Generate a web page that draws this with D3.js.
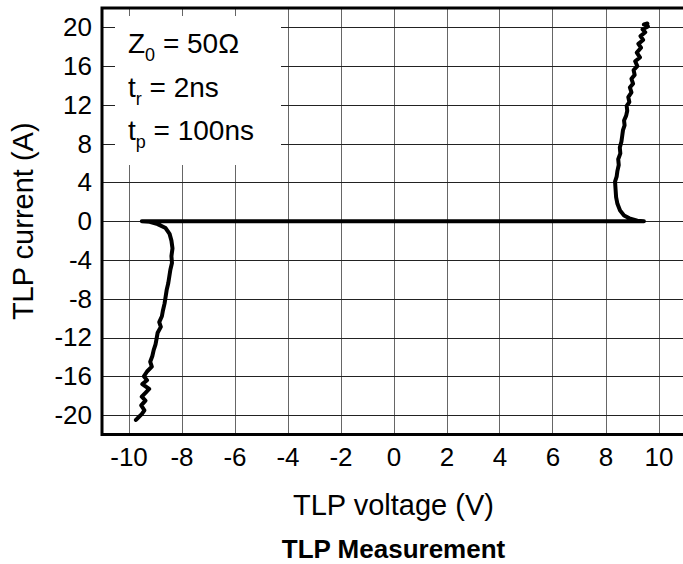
<!DOCTYPE html>
<html>
<head>
<meta charset="utf-8">
<script src="https://cdn.jsdelivr.net/npm/d3@7"></script>
<style>
  body { margin: 0; background: #fff; }
  svg { display: block; font-family: "Liberation Sans", Arial, sans-serif; }
</style>
</head>
<body>
<div id="chart"></div>
<script>
(function () {
  'use strict';

  // data
  var xTicks = [-10, -8, -6, -4, -2, 0, 2, 4, 6, 8, 10];
  var yTicks = [-20, -16, -12, -8, -4, 0, 4, 8, 12, 16, 20];

  // negative branch, from the bottom end up to the knee (V, A)
  var negBranch = [
    [-9.72, -20.5], [-9.65, -20.3], [-9.5, -19.9], [-9.4, -19.5], [-9.52, -19.0],
    [-9.36, -18.5], [-9.5, -18.1], [-9.36, -17.7], [-9.22, -17.3], [-9.48, -16.8],
    [-9.3, -16.4], [-9.42, -16.0], [-9.3, -15.5], [-9.12, -15.0], [-9.18, -14.5],
    [-9.1, -13.9], [-9.05, -13.3], [-8.98, -12.7], [-8.94, -12.1], [-8.9, -11.5],
    [-8.78, -10.9], [-8.84, -10.4], [-8.74, -9.8], [-8.7, -9.2], [-8.64, -8.5],
    [-8.6, -7.8], [-8.56, -7.1], [-8.5, -6.4], [-8.46, -5.7], [-8.42, -5.0],
    [-8.36, -4.3], [-8.38, -3.6], [-8.34, -2.8], [-8.38, -2.0], [-8.45, -1.3],
    [-8.6, -0.7], [-8.9, -0.3], [-9.2, -0.05], [-9.5, 0]
  ];

  // positive branch, from the knee up to the top end (V, A)
  var posBranch = [
    [9.45, 0], [9.2, 0.05], [8.9, 0.3], [8.7, 0.6], [8.55, 1.1], [8.45, 1.8],
    [8.4, 2.5], [8.38, 3.3], [8.36, 4.1], [8.42, 4.6], [8.45, 5.2], [8.5, 5.8],
    [8.48, 6.4], [8.56, 7.0], [8.54, 7.6], [8.6, 8.2], [8.63, 8.8], [8.66, 9.4],
    [8.72, 9.9], [8.7, 10.4], [8.78, 10.9], [8.82, 11.4], [8.8, 11.9], [8.9, 12.3],
    [8.86, 12.8], [8.98, 13.3], [8.92, 13.8], [9.04, 14.2], [8.98, 14.7], [9.1, 15.1],
    [9.06, 15.6], [9.2, 16.0], [9.12, 16.5], [9.3, 16.9], [9.18, 17.4], [9.34, 17.9],
    [9.24, 18.3], [9.42, 18.7], [9.32, 19.1], [9.5, 19.5], [9.4, 19.8], [9.6, 20.1],
    [9.45, 20.3], [9.58, 20.4]
  ];

  var W = 683, H = 564,
      left = 102, top = 8,
      plotW = 583, plotH = 426.5;

  var svg = d3.select('#chart').append('svg')
    .attr('width', W)
    .attr('height', H);

  var x = d3.scaleLinear().domain([-11, 11]).range([left, left + plotW]);
  var y = d3.scaleLinear().domain([-22, 22]).range([top + plotH, top]);

  // grid
  svg.append('g').selectAll('line')
    .data(xTicks)
    .enter().append('line')
    .attr('x1', function (d) { return Math.round(x(d)) + 0.5; })
    .attr('x2', function (d) { return Math.round(x(d)) + 0.5; })
    .attr('y1', top)
    .attr('y2', top + plotH)
    .style('stroke', '#666')
    .style('stroke-width', 1);

  svg.append('g').selectAll('line')
    .data(yTicks)
    .enter().append('line')
    .attr('x1', left)
    .attr('x2', W)
    .attr('y1', function (d) { return Math.round(y(d)) + 0.5; })
    .attr('y2', function (d) { return Math.round(y(d)) + 0.5; })
    .style('stroke', '#222')
    .style('stroke-width', 1);

  // legend box hides the grid behind it
  svg.append('rect')
    .attr('x', 115).attr('y', 16)
    .attr('width', 166).attr('height', 149)
    .style('fill', '#fff');

  // frame
  svg.append('path')
    .attr('d', 'M' + W + ',' + (top) + 'H' + (left) + 'V' + (top + plotH) + 'H' + W)
    .style('fill', 'none')
    .style('stroke', '#000')
    .style('stroke-width', 3);

  // axes labels (plain hyphen minus, as in the picture)
  var fmt = function (d) { return String(d); };
  var xAxis = d3.axisBottom(x).tickValues(xTicks).tickFormat(fmt).tickSize(0).tickPadding(13);
  var yAxis = d3.axisLeft(y).tickValues(yTicks).tickFormat(fmt).tickSize(0).tickPadding(10);

  var gx = svg.append('g')
    .attr('transform', 'translate(0,' + (top + plotH) + ')')
    .call(xAxis);
  var gy = svg.append('g')
    .attr('transform', 'translate(' + left + ',0)')
    .call(yAxis);

  [gx, gy].forEach(function (g) {
    g.select('.domain').remove();
    g.selectAll('text')
      .style('font-size', '26px')
      .style('fill', '#000')
      .style('font-family', '"Liberation Sans", Arial, sans-serif');
  });

  // curve
  var curve = negBranch.concat(posBranch);
  var line = d3.line()
    .x(function (d) { return x(d[0]); })
    .y(function (d) { return y(d[1]); });

  svg.append('path')
    .datum(curve)
    .attr('d', line)
    .style('fill', 'none')
    .style('stroke', '#000')
    .style('stroke-width', 4)
    .style('stroke-linejoin', 'round')
    .style('stroke-linecap', 'round');

  // legend text
  var legend = [
    {main: 'Z', sub: '0', rest: ' = 50\u03A9', yy: 53},
    {main: 't', sub: 'r', rest: ' = 2ns', yy: 97},
    {main: 't', sub: 'p', rest: ' = 100ns', yy: 140}
  ];
  legend.forEach(function (d) {
    var t = svg.append('text')
      .attr('x', 128).attr('y', d.yy)
      .style('font-size', '28px');
    t.append('tspan').text(d.main);
    t.append('tspan').attr('dy', 8).style('font-size', '18px').text(d.sub);
    t.append('tspan').attr('dy', -8).text(d.rest);
  });

  // titles
  svg.append('text')
    .attr('x', x(0)).attr('y', 515)
    .attr('text-anchor', 'middle')
    .style('font-size', '29px')
    .text('TLP voltage (V)');

  svg.append('text')
    .attr('transform', 'translate(33,' + y(0) + ') rotate(-90)')
    .attr('text-anchor', 'middle')
    .style('font-size', '29px')
    .text('TLP current (A)');

  svg.append('text')
    .attr('x', x(0)).attr('y', 558)
    .attr('text-anchor', 'middle')
    .style('font-size', '26px')
    .style('font-weight', 'bold')
    .text('TLP Measurement');
}());
</script>
</body>
</html>
